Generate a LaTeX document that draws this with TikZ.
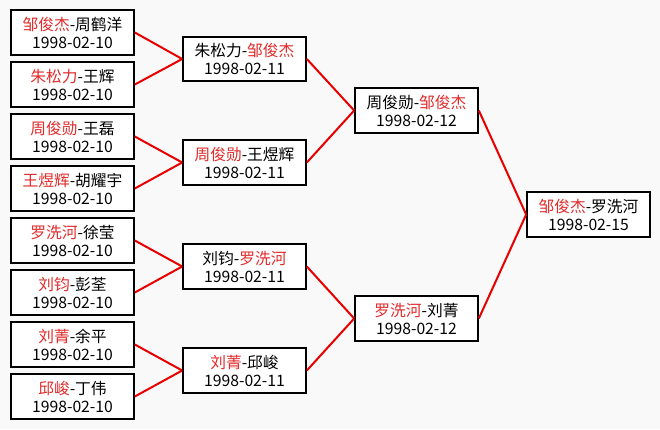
\documentclass[tikz,border=0pt]{standalone}
\usepackage{fontspec}
\setmainfont{Noto Sans CJK SC}
\usepackage{tikz,xcolor}
\definecolor{winred}{HTML}{E22B2B}
\definecolor{linkred}{HTML}{E80000}
\definecolor{paper}{HTML}{F9F9F9}
\newcommand{\win}[1]{\textcolor{winred}{#1}}

\begin{document}
\begin{tikzpicture}[x=0.75pt,y=-0.75pt,
    game/.style={draw=black,line width=1.5pt,fill=white,rectangle,align=center,
        minimum width=92pt,minimum height=33.5pt,inner sep=0pt,
        font=\fontsize{11.8}{13.5}\selectfont},
    link/.style={draw=linkred,line width=1.5pt}]
                \fill[paper] (0,0) rectangle (660,429);
                \useasboundingbox (0,0) rectangle (660,429);

                \node[game] (a1) at (72.5,32.5) {\win{邹俊杰}-周鹤洋\\1998-02-10};
                \node[game] (a2) at (72.5,84.5) {\win{朱松力}-王辉\\1998-02-10};
                \node[game] (a3) at (72.5,136.5) {\win{周俊勋}-王磊\\1998-02-10};
                \node[game] (a4) at (72.5,188.5) {\win{王煜辉}-胡耀宇\\1998-02-10};
                \node[game] (a5) at (72.5,240.5) {\win{罗洗河}-徐莹\\1998-02-10};
                \node[game] (a6) at (72.5,292.5) {\win{刘钧}-彭荃\\1998-02-10};
                \node[game] (a7) at (72.5,344.5) {\win{刘菁}-余平\\1998-02-10};
                \node[game] (a8) at (72.5,396.5) {\win{邱峻}-丁伟\\1998-02-10};

                \node[game] (b1) at (244.5,59) {朱松力-\win{邹俊杰}\\1998-02-11};
                \node[game] (b2) at (244.5,162.5) {\win{周俊勋}-王煜辉\\1998-02-11};
                \node[game] (b3) at (244.5,266.5) {刘钧-\win{罗洗河}\\1998-02-11};
                \node[game] (b4) at (244.5,370.5) {\win{刘菁}-邱峻\\1998-02-11};

                \node[game] (c1) at (416.5,110.5) {周俊勋-\win{邹俊杰}\\1998-02-12};
                \node[game] (c2) at (416.5,318.5) {\win{罗洗河}-刘菁\\1998-02-12};

                \node[game] (d) at (588.5,214.5) {\win{邹俊杰}-罗洗河\\1998-02-15};

                \draw [link] (a1.east) -- (b1.west);
                \draw [link] (a2.east) -- (b1.west);
                \draw [link] (a3.east) -- (b2.west);
                \draw [link] (a4.east) -- (b2.west);
                \draw [link] (a5.east) -- (b3.west);
                \draw [link] (a6.east) -- (b3.west);
                \draw [link] (a7.east) -- (b4.west);
                \draw [link] (a8.east) -- (b4.west);
                \draw [link] (b1.east) -- (c1.west);
                \draw [link] (b2.east) -- (c1.west);
                \draw [link] (b3.east) -- (c2.west);
                \draw [link] (b4.east) -- (c2.west);
                \draw [link] (c1.east) -- (d.west);
                \draw [link] (c2.east) -- (d.west);
            \end{tikzpicture}
\end{document}
